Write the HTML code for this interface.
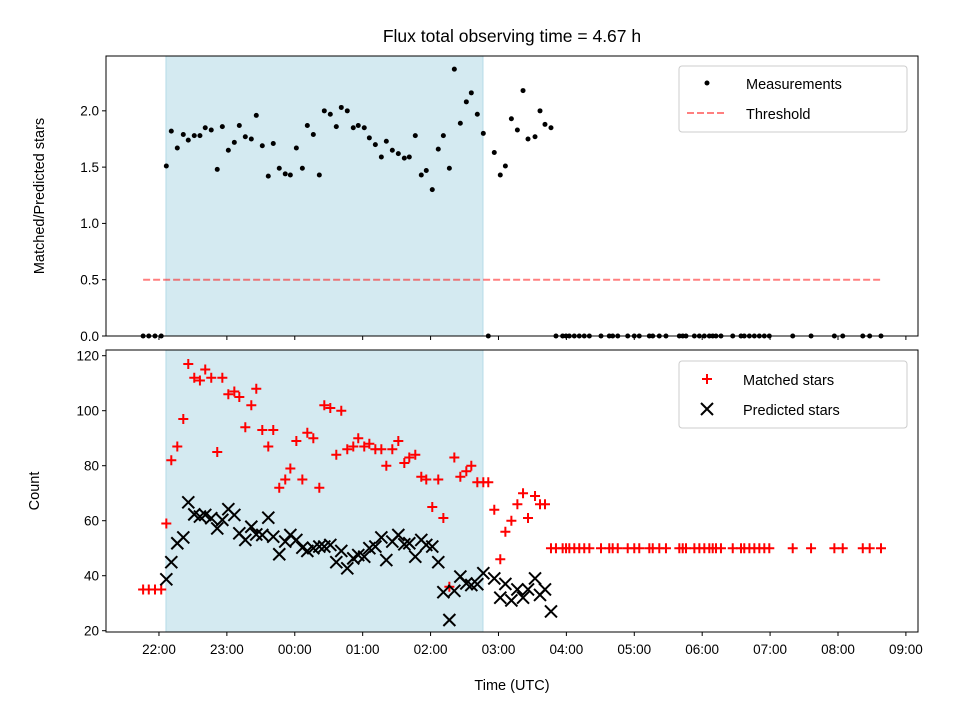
<!DOCTYPE html>
<html><head><meta charset="utf-8"><style>
html,body{margin:0;padding:0;background:#fff;}
svg{display:block;font-family:"Liberation Sans","DejaVu Sans",sans-serif;}
</style></head><body>
<svg id="fig" width="960" height="720" viewBox="0 0 960 720" xmlns="http://www.w3.org/2000/svg">
<rect x="0" y="0" width="960" height="720" fill="#fff"/>
<text x="512" y="42" font-size="17.5" text-anchor="middle" fill="#000">Flux total observing time = 4.67 h</text>
<g id="toppanel"></g>
<g id="botpanel"></g>
<text transform="translate(44,196) rotate(-90)" font-size="14.5" text-anchor="middle">Matched/Predicted stars</text>
<text transform="translate(39,491) rotate(-90)" font-size="14.5" text-anchor="middle">Count</text>
<text x="512" y="690" font-size="14.5" text-anchor="middle">Time (UTC)</text>
<g>
<rect x="679" y="66" width="228" height="66" rx="3" fill="#fff" fill-opacity="0.8" stroke="#ccc"/>
<circle cx="707" cy="83" r="2.5" fill="#000"/>
<text x="746" y="89" font-size="14.5">Measurements</text>
<line x1="687" y1="113" x2="727" y2="113" stroke="#ff0000" stroke-opacity="0.5" stroke-width="2" stroke-dasharray="7,3"/>
<text x="746" y="119" font-size="14.5">Threshold</text>
</g>
<g>
<rect x="679" y="361" width="228" height="67" rx="3" fill="#fff" fill-opacity="0.8" stroke="#ccc"/>
<path d="M702,379h10M707,374v10" stroke="#ff0000" stroke-width="2"/>
<text x="743" y="385" font-size="14.5">Matched stars</text>
<path d="M701,403l12,12M713,403l-12,12" stroke="#000" stroke-width="2"/>
<text x="743" y="415" font-size="14.5">Predicted stars</text>
</g>
</svg>
<script>
// minutes since 22:00 UTC
const times = [-14,-9,-3.5,2,6.5,10.9,16.2,21.5,25.9,31.2,36.2,40.9,46.2,51.5,56,61.3,66.6,71,76.3,81.6,86,91.3,96.6,101,106.3,111.6,116.1,121.4,126.7,131.1,136.4,141.7,146.1,151.4,156.7,161.1,166.4,171.7,176.1,181.4,185.9,191.2,196.5,200.9,206.2,211.5,216.8,221.2,226.5,231.8,236.2,241.5,246.8,251.3,256.6,261,266.3,271.6,276,281.3,286.6,291,296.3,301.6,306.1,311.4,316.7,321.7,326.1,332.3,336.7,341.1,346.4,350.8,356.7,359.7,362.6,367,371.4,375.8,380.3,390.6,397.9,400.9,405.4,414.2,420,424.4,433.3,436.3,442.1,448,459.8,462.8,465.7,473.1,477.5,481.9,486.3,489.3,492.2,496.6,507,514.3,517.2,521.7,526.1,530.5,534.9,539.3,560,576.2,596.8,604.2,621.9,628,638];
const ratio = [0,0,0,0,1.51,1.82,1.67,1.79,1.74,1.78,1.78,1.85,1.83,1.48,1.86,1.65,1.72,1.87,1.77,1.75,1.96,1.69,1.42,1.71,1.49,1.44,1.43,1.67,1.49,1.87,1.79,1.43,2.0,1.97,1.86,2.03,2.0,1.85,1.87,1.85,1.76,1.70,1.59,1.73,1.65,1.62,1.58,1.59,1.78,1.43,1.47,1.30,1.66,1.78,1.49,2.37,1.89,2.08,2.16,1.97,1.80,0,1.63,1.43,1.51,1.93,1.83,2.18,1.75,1.77,2.0,1.88,1.85,0,0,0,0,0,0,0,0,0,0,0,0,0,0,0,0,0,0,0,0,0,0,0,0,0,0,0,0,0,0,0,0,0,0,0,0,0,0,0,0,0,0,0,0];
const matched = [35,35,35,35,59,82,87,97,117,112,111,115,112,85,112,106,107,105,94,102,108,93,87,93,72,75,79,89,75,92,90,72,102,101,84,100,86,87,90,87,88,86,86,80,86,89,81,83,84,76,75,65,75,61,36,83,76,78,80,74,74,74,64,46,56,60,66,70,61,69,66,66,50,50,50,50,50,50,50,50,50,50,50,50,50,50,50,50,50,50,50,50,50,50,50,50,50,50,50,50,50,50,50,50,50,50,50,50,50,50,50,50,50,50,50,50,50,50];
const predicted = [null,null,null,null,38.7,44.9,51.8,53.9,66.7,62.3,61.5,62.1,60.9,57.2,60.3,64.2,62.1,55.4,53,57.8,55,54.8,61.1,54.2,47.8,52.4,54.8,53,50.2,49,50,50.6,50.6,51.2,44.9,49,42.7,46.3,47.5,46.9,50,50.6,53.9,45.7,52.4,54.8,51.4,51.8,46.9,53,51.2,50.6,44.9,34,23.9,34.5,39.7,37.2,36.6,36.9,40.9,null,39,32,37,31,35,32,35,39,33,35,27];
const xTicks = [0,60,120,180,240,300,360,420,480,540,600,660];
const xTickLabels = ["22:00","23:00","00:00","01:00","02:00","03:00","04:00","05:00","06:00","07:00","08:00","09:00"];
const topYTicks = [0,0.5,1,1.5,2];
const botYTicks = [20,40,60,80,100,120];
const shadeSpan = [6.2,286.3];
const threshold = 0.5;
const thresholdSpan = [-14,638];

const NS="http://www.w3.org/2000/svg";
const L=106,R=918;
const xMin=-46.8,xMax=670.7;
const X=t=>L+(t-xMin)/(xMax-xMin)*(R-L);
const PT={top:56,bottom:336,min:0,max:2.487};
const PB={top:350,bottom:632,min:19.53,max:122.07};
const Y=(p,v)=>p.bottom-(v-p.min)/(p.max-p.min)*(p.bottom-p.top);
function mk(tag,attrs,parent){const e=document.createElementNS(NS,tag);for(const k in attrs)e.setAttribute(k,attrs[k]);parent.appendChild(e);return e;}

function panel(g,p,yTicks,fmt,showX,nm){
  const s=mk('rect',{x:X(shadeSpan[0]),y:p.top,width:X(shadeSpan[1])-X(shadeSpan[0]),height:p.bottom-p.top,fill:'#d4eaf1',stroke:'#b5dbe8','stroke-width':1},g);
  
  
  yTicks.forEach(v=>{
    const y=Y(p,v);
    const tl=mk('line',{x1:L-4,x2:L,y1:y,y2:y,stroke:'#000','stroke-width':1},g);
    
    
    const t=mk('text',{x:L-7,y:y+4.8,'font-size':13.5,'text-anchor':'end'},g);
    
    
    t.textContent=fmt(v);
  });
  xTicks.forEach((v,i)=>{
    const x=X(v);
    const tl=mk('line',{x1:x,x2:x,y1:p.bottom,y2:p.bottom+4,stroke:'#000','stroke-width':1},g);
    
    
    if(showX){
      const t=mk('text',{x:x,y:p.bottom+22,'font-size':13.5,'text-anchor':'middle'},g);
      
      
      t.textContent=xTickLabels[i];
    }
  });
}
const gTop=document.getElementById('toppanel'), gBot=document.getElementById('botpanel');
panel(gTop,PT,topYTicks,v=>v.toFixed(1),false,'top');
panel(gBot,PB,botYTicks,v=>String(v),true,'bottom');

const th=mk('line',{x1:X(thresholdSpan[0]),x2:X(thresholdSpan[1]),y1:Y(PT,threshold),y2:Y(PT,threshold),stroke:'#ff0000','stroke-opacity':0.5,'stroke-width':2,'stroke-dasharray':'7,3'},gTop);



times.forEach((t,i)=>{
  if(ratio[i]==null)return;
  const c=mk('circle',{cx:X(t),cy:Y(PT,ratio[i]),r:2.5,fill:'#000'},gTop);
  
  
});
times.forEach((t,i)=>{
  if(matched[i]==null)return;
  const x=X(t),y=Y(PB,matched[i]);
  const m=mk('path',{d:`M${x-5},${y}h10M${x},${y-5}v10`,stroke:'#ff0000','stroke-width':2},gBot);
  
  
});
times.forEach((t,i)=>{
  if(predicted[i]==null)return;
  const x=X(t),y=Y(PB,predicted[i]);
  const m=mk('path',{d:`M${x-6},${y-6}l12,12M${x+6},${y-6}l-12,12`,stroke:'#000','stroke-width':2},gBot);
  
  
});
[[gTop,PT],[gBot,PB]].forEach(([g,p],k)=>{
  const f=mk('rect',{x:L,y:p.top,width:R-L,height:p.bottom-p.top,fill:'none',stroke:'#000','stroke-width':1},g);
  
  
});
</script>
</body></html>
